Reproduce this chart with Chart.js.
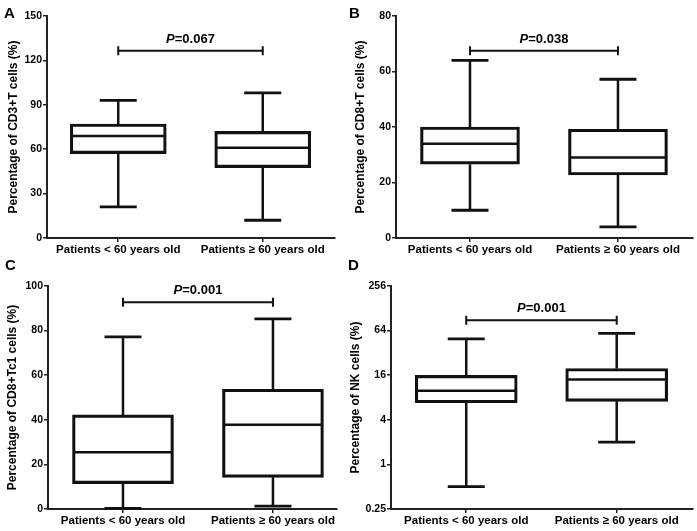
<!DOCTYPE html>
<html><head><meta charset="utf-8">
<script src="https://cdn.jsdelivr.net/npm/chart.js@4"></script>
<style>
html,body{margin:0;padding:0;background:#fff;}
#wrap{position:relative;width:697px;height:531px;overflow:hidden;background:#fff;}
canvas{position:absolute;}
.lbl{position:absolute;font:bold 15px "Liberation Sans",Arial,sans-serif;line-height:15px;color:#000;}
</style></head><body>
<div id="wrap">
<canvas id="cA" width="348" height="265" style="left:0;top:0"></canvas>
<canvas id="cB" width="349" height="265" style="left:348px;top:0"></canvas>
<canvas id="cC" width="348" height="266" style="left:0;top:265px"></canvas>
<canvas id="cD" width="351" height="266" style="left:346px;top:265px"></canvas>
<div class="lbl" style="left:4px;top:5px">A</div>
<div class="lbl" style="left:349px;top:5px">B</div>
<div class="lbl" style="left:5px;top:257px">C</div>
<div class="lbl" style="left:348px;top:257px">D</div>
</div>
<script>
// ---- data ----
const categories = ['Patients < 60 years old', 'Patients \u2265 60 years old'];

const cd3Min = [21, 12];
const cd3Q1 = [57, 47.5];
const cd3Median = [69, 61];
const cd3Q3 = [77, 72];
const cd3Max = [93, 98];
const cd3Ticks = [0, 30, 60, 90, 120, 150];
const cd3P = 'P=0.067';
const cd3Bracket = 126.5;

const cd8Min = [10, 4];
const cd8Q1 = [26.6, 22.7];
const cd8Median = [34, 29];
const cd8Q3 = [40, 39.2];
const cd8Max = [64, 57.2];
const cd8Ticks = [0, 20, 40, 60, 80];
const cd8P = 'P=0.038';
const cd8Bracket = 67.5;

const tc1Min = [0.3, 1.3];
const tc1Q1 = [11.4, 14.2];
const tc1Median = [25.5, 37.8];
const tc1Q3 = [42.2, 53.7];
const tc1Max = [77.2, 85.3];
const tc1Ticks = [0, 20, 40, 60, 80, 100];
const tc1P = 'P=0.001';
const tc1Bracket = 92.7;

const nkMin = [0.5, 2.0];
const nkQ1 = [6.8, 7.1];
const nkMedian = [9.9, 14.0];
const nkQ3 = [15.9, 19.7];
const nkMax = [49.6, 58.6];
const nkTicks = [0.25, 1, 4, 16, 64, 256];
const nkP = 'P=0.001';
const nkBracket = 88;

// ---- rendering ----
const FAMILY = '"Liberation Sans", Arial, Helvetica, sans-serif';
Chart.defaults.font.family = FAMILY;
Chart.defaults.font.weight = 'bold';
Chart.defaults.color = '#000';

const boxExtras = {
  id: 'boxExtras',
  afterDatasetsDraw(chart, args, o) {
    const {ctx} = chart;
    const x = chart.scales.x, y = chart.scales.y;
    const meta = chart.getDatasetMeta(0);
    ctx.save();
    ctx.strokeStyle = '#111';
    ctx.lineCap = 'butt';
    meta.data.forEach((bar, i) => {
      const cx = bar.x;
      const hw = bar.width / 2;
      const yMed = y.getPixelForValue(o.med[i]);
      const yQ1 = y.getPixelForValue(o.q1[i]);
      const yQ3 = y.getPixelForValue(o.q3[i]);
      const yMin = y.getPixelForValue(o.min[i]);
      const yMax = y.getPixelForValue(o.max[i]);
      ctx.lineWidth = 2.5;
      ctx.beginPath();
      ctx.moveTo(cx - hw + 1, yMed); ctx.lineTo(cx + hw - 1, yMed);
      ctx.moveTo(cx, yQ3); ctx.lineTo(cx, yMax);
      ctx.moveTo(cx, yQ1); ctx.lineTo(cx, yMin);
      ctx.stroke();
      ctx.lineWidth = 2.8;
      ctx.beginPath();
      ctx.moveTo(cx - o.cap / 2, yMax); ctx.lineTo(cx + o.cap / 2, yMax);
      ctx.moveTo(cx - o.cap / 2, yMin); ctx.lineTo(cx + o.cap / 2, yMin);
      ctx.stroke();
    });
    // significance bracket
    const x1 = x.getPixelForValue(1), x2 = x.getPixelForValue(2);
    const yb = y.getPixelForValue(o.bracket);
    ctx.lineWidth = 2;
    ctx.beginPath();
    ctx.moveTo(x1, yb); ctx.lineTo(x2, yb);
    ctx.moveTo(x1, yb - 4.5); ctx.lineTo(x1, yb + 4.5);
    ctx.moveTo(x2, yb - 4.5); ctx.lineTo(x2, yb + 4.5);
    ctx.stroke();
    const p1 = o.text.slice(0, 1), p2 = o.text.slice(1);
    ctx.fillStyle = '#000';
    ctx.textBaseline = 'alphabetic';
    ctx.font = 'italic bold 13px ' + FAMILY;
    const w1 = ctx.measureText(p1).width;
    ctx.font = 'bold 13px ' + FAMILY;
    const w2 = ctx.measureText(p2).width;
    const sx = (x1 + x2) / 2 - (w1 + w2) / 2;
    ctx.font = 'italic bold 13px ' + FAMILY;
    ctx.fillText(p1, sx, yb - 8);
    ctx.font = 'bold 13px ' + FAMILY;
    ctx.fillText(p2, sx + w1, yb - 8);
    ctx.restore();
  }
};

function makeChart(id, p) {
  const yScale = {
    type: p.log ? 'logarithmic' : 'linear',
    min: p.ticks[0],
    max: p.ticks[p.ticks.length - 1],
    afterBuildTicks(s) { s.ticks = p.ticks.map(v => ({value: v})); },
    afterFit(s) { s.width = p.left; },
    ticks: {
      color: '#000',
      font: {size: 10.5, weight: 'bold'},
      padding: 1,
      callback: v => String(v)
    },
    grid: {drawOnChartArea: false, drawTicks: true, tickLength: 4, color: '#222', lineWidth: 1.5},
    border: {display: true, color: '#222', width: 2},
    title: {
      display: true,
      text: p.title,
      color: '#000',
      font: {size: 12, weight: 'bold'},
      padding: {top: p.titlePad, bottom: 0}
    }
  };
  const xScale = {
    type: 'linear',
    min: p.xmin,
    max: p.xmax,
    offset: false,
    afterBuildTicks(s) { s.ticks = categories.map((c, i) => ({value: i + 1})); },
    afterFit(s) { s.height = p.xh; },
    ticks: {
      color: '#000',
      font: {size: 11.5, weight: 'bold'},
      padding: 1,
      maxRotation: 0,
      autoSkip: false,
      callback: v => categories[v - 1] || ''
    },
    grid: {offset: false, drawOnChartArea: false, drawTicks: true, tickLength: 4, color: '#222', lineWidth: 1.5},
    border: {display: true, color: '#222', width: 2}
  };
  return new Chart(document.getElementById(id), {
    type: 'bar',
    data: {
      datasets: [{
        data: categories.map((c, i) => ({x: i + 1, y: [p.q1[i], p.q3[i]]})),
        backgroundColor: 'rgba(255,255,255,0)',
        borderColor: '#111',
        borderWidth: 2.5,
        borderSkipped: false,
        barThickness: p.barW
      }]
    },
    options: {
      responsive: false,
      animation: false,
      events: [],
      layout: {padding: {left: 0, top: p.top, right: p.right, bottom: 0}},
      scales: {x: xScale, y: yScale},
      plugins: {
        legend: {display: false},
        tooltip: {enabled: false},
        boxExtras: {min: p.min, q1: p.q1, med: p.med, q3: p.q3, max: p.max,
                    bracket: p.bracket, text: p.pText, cap: 37}
      }
    },
    plugins: [boxExtras]
  });
}

makeChart('cA', {min: cd3Min, q1: cd3Q1, med: cd3Median, q3: cd3Q3, max: cd3Max,
  ticks: cd3Ticks, pText: cd3P, bracket: cd3Bracket, title: 'Percentage of CD3+T cells (%)',
  left: 47, top: 16, right: 13, xh: 27, xmin: 0.507, xmax: 2.5, barW: 96, titlePad: 6});
makeChart('cB', {min: cd8Min, q1: cd8Q1, med: cd8Median, q3: cd8Q3, max: cd8Max,
  ticks: cd8Ticks, pText: cd8P, bracket: cd8Bracket, title: 'Percentage of CD8+T cells (%)',
  left: 48, top: 16, right: 4, xh: 27, xmin: 0.5, xmax: 2.507, barW: 99, titlePad: 5});
makeChart('cC', {min: tc1Min, q1: tc1Q1, med: tc1Median, q3: tc1Q3, max: tc1Max,
  ticks: tc1Ticks, pText: tc1P, bracket: tc1Bracket, title: 'Percentage of CD8+Tc1 cells (%)',
  left: 48, top: 21, right: 11, xh: 22, xmin: 0.5, xmax: 2.427, barW: 101, titlePad: 5});
makeChart('cD', {min: nkMin, q1: nkQ1, med: nkMedian, q3: nkQ3, max: nkMax, log: true,
  ticks: nkTicks, pText: nkP, bracket: nkBracket, title: 'Percentage of NK cells (%)',
  left: 45, top: 21, right: 4, xh: 22, xmin: 0.5, xmax: 2.507, barW: 102, titlePad: 2});
</script>
</body></html>
